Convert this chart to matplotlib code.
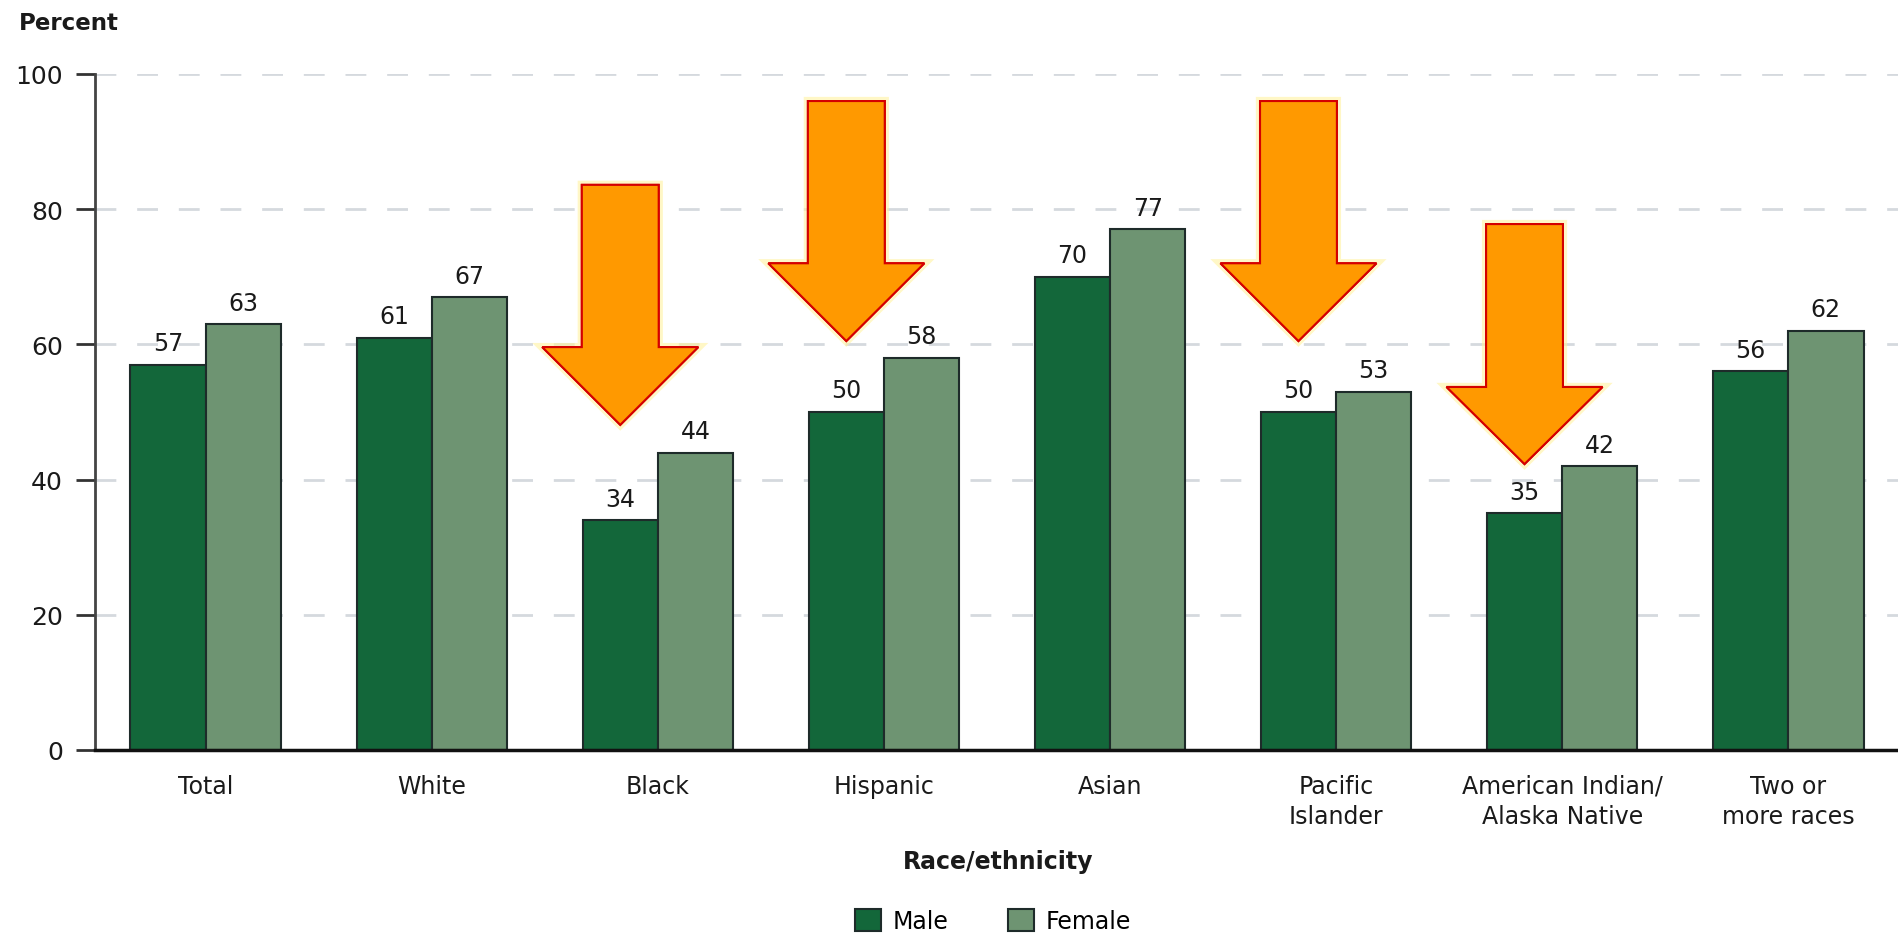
import matplotlib
matplotlib.use("Agg")
import matplotlib.pyplot as plt
import matplotlib.patheffects as pe
from matplotlib.patches import Polygon, Patch
import numpy as np

plt.rcParams['font.family'] = ['DejaVu Sans']

categories = ["Total", "White", "Black", "Hispanic", "Asian",
              "Pacific\nIslander", "American Indian/\nAlaska Native",
              "Two or\nmore races"]
male = [57, 61, 34, 50, 70, 50, 35, 56]
female = [63, 67, 44, 58, 77, 53, 42, 62]
y_ticks = [0, 20, 40, 60, 80, 100]

# Arrow callouts: category, shaft top, head base, tip (percent scale)
arrow_cats = ["Black", "Hispanic", "Pacific\nIslander", "American Indian/\nAlaska Native"]
arrow_top = [83.6, 96.0, 96.0, 77.8]
arrow_base = [59.6, 72.0, 72.0, 53.7]
arrow_tip = [48.1, 60.5, 60.5, 42.3]

MALE_C = "#13673a"
FEMALE_C = "#6e9472"
EDGE_C = "#1e2b2a"
TEXT_C = "#1a1a1a"
FS = 17

fig = plt.figure(figsize=(18.99, 9.37), dpi=100)
ax = fig.add_axes([95 / 1899, 1 - 751 / 937, 1 - 95 / 1899, (751 - 75) / 937])

x = np.arange(len(categories))
w = 0.333
bm = ax.bar(x - w / 2, male, w, color=MALE_C, edgecolor=EDGE_C, linewidth=1.5, zorder=3, label="Male")
bf = ax.bar(x + w / 2, female, w, color=FEMALE_C, edgecolor=EDGE_C, linewidth=1.5, zorder=3, label="Female")

for bars, vals in ((bm, male), (bf, female)):
    for b, v in zip(bars, vals):
        ax.annotate(f"{v}", (b.get_x() + b.get_width() / 2, v), xytext=(0, 15.5),
                    textcoords="offset points", ha="center", va="center",
                    fontsize=FS, color=TEXT_C, zorder=5)

ax.set_xlim(-0.49, 7.49)
ax.set_ylim(0, 100)
ax.set_yticks(y_ticks)
ax.set_yticklabels([str(t) for t in y_ticks], fontsize=FS + 1, color=TEXT_C)
ax.tick_params(axis="y", length=14, width=2, color="#333333", pad=9)
ax.set_xticks(x)
ax.set_xticklabels(categories, fontsize=FS, color=TEXT_C, linespacing=1.35)
ax.tick_params(axis="x", length=0, pad=17)

for y in y_ticks[1:]:
    ax.axhline(y, color="#d5d9de", linewidth=2, dashes=(7.5, 7.5), zorder=1)

for s in ("top", "right"):
    ax.spines[s].set_visible(False)
ax.spines["left"].set_color("#444444")
ax.spines["left"].set_linewidth(2)
ax.spines["bottom"].set_color("#111111")
ax.spines["bottom"].set_linewidth(2.5)
ax.spines["bottom"].set_zorder(4)

# Downward arrows centred over the male bars of the highlighted groups
shaft_w = 0.34
head_w = 0.69
for cat, top, base, tip in zip(arrow_cats, arrow_top, arrow_base, arrow_tip):
    cx = categories.index(cat) - w / 2
    pts = [(cx - shaft_w / 2, top), (cx + shaft_w / 2, top), (cx + shaft_w / 2, base),
           (cx + head_w / 2, base), (cx, tip), (cx - head_w / 2, base),
           (cx - shaft_w / 2, base)]
    poly = Polygon(pts, closed=True, facecolor="#ff9900", edgecolor="#d40000",
                   linewidth=1.5, zorder=6, joinstyle="miter")
    poly.set_path_effects([pe.withStroke(linewidth=6, foreground="#fff3a0", alpha=0.6),
                           pe.Normal()])
    ax.add_patch(poly)

fig.text(19 / 1899, 1 - 24 / 937, "Percent", fontsize=FS - 0.5, fontweight="bold",
         color=TEXT_C, ha="left", va="center")
fig.text(998 / 1899, 1 - 862 / 937, "Race/ethnicity", fontsize=FS, fontweight="bold",
         color=TEXT_C, ha="center", va="center")

handles = [Patch(facecolor=MALE_C, edgecolor=EDGE_C, linewidth=1.5, label="Male"),
           Patch(facecolor=FEMALE_C, edgecolor=EDGE_C, linewidth=1.5, label="Female")]
fig.legend(handles=handles, loc="center", bbox_to_anchor=(993 / 1899, 1 - 922 / 937),
           ncol=2, frameon=False, fontsize=FS, handlelength=1.1, handleheight=1.1,
           handletextpad=0.5, columnspacing=2.5, borderpad=0)

fig.savefig("out.png", dpi=100, facecolor="white")
